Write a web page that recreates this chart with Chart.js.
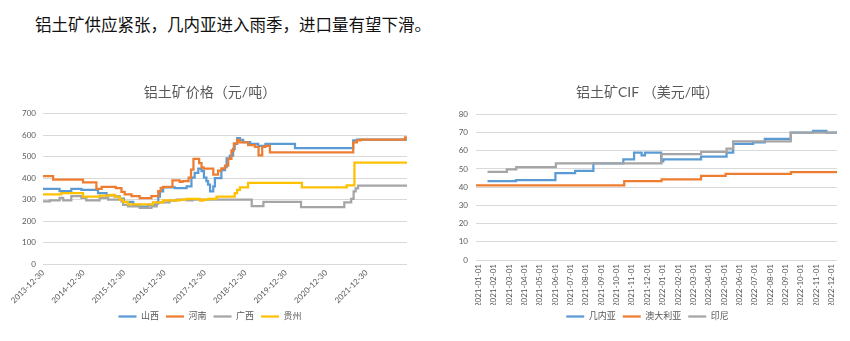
<!DOCTYPE html>
<html>
<head>
<meta charset="utf-8">
<script src="https://cdn.jsdelivr.net/npm/chart.js@4.4.0/dist/chart.umd.min.js"></script>
<style>
  body { margin: 0; background: #fff; width: 850px; height: 341px; position: relative; overflow: hidden; }
  .heading { position: absolute; left: 35px; top: 12px; font-size: 16.5px; font-family: "Noto Sans CJK SC", sans-serif; color: #111; white-space: nowrap; }
  .box { position: absolute; top: 45px; height: 296px; }
  #left { left: 0; width: 420px; }
  #right { left: 440px; width: 410px; }
</style>
</head>
<body>
<div class="heading">铝土矿供应紧张，几内亚进入雨季，进口量有望下滑。</div>
<div class="box" id="left"><canvas id="priceChart" width="420" height="296"></canvas></div>
<div class="box" id="right"><canvas id="cifChart" width="410" height="296"></canvas></div>
<script>
// 国内铝土矿价格（元/吨），x = 自 2013-12-30 起的年数，每点为该价格开始执行的位置
const yearLabels = ['2013-12-30', '2014-12-30', '2015-12-30', '2016-12-30', '2017-12-30',
                    '2018-12-30', '2019-12-30', '2020-12-30', '2021-12-30'];

const shanxi = [[0,350],[0.41,340],[0.70,350],[0.95,345],[1.36,330],[1.57,320],[1.77,315],[1.90,305],
  [2.00,290],[2.23,275],[2.39,267],[2.60,275],[2.81,287],[2.85,314],[2.89,338],[2.97,357],[3.26,354],
  [3.55,362],[3.67,402],[3.75,425],[3.84,445],[3.92,433],[3.98,402],[4.04,386],[4.08,370],[4.13,338],
  [4.21,362],[4.25,400],[4.41,437],[4.50,452],[4.54,492],[4.62,505],[4.70,537],[4.74,560],[4.80,587],
  [4.87,579],[4.95,568],[5.12,560],[5.32,550],[5.50,560],[6.23,540],[7.67,576],[7.76,580],[9.0,580]];

const henan = [[0,410],[0.25,393],[0.99,380],[1.32,350],[1.45,360],[1.80,354],[1.94,336],[2.02,324],
  [2.19,316],[2.39,307],[2.68,316],[2.85,340],[2.91,355],[2.97,360],[3.20,390],[3.38,383],[3.45,386],
  [3.60,403],[3.66,440],[3.72,490],[3.86,470],[3.92,450],[3.97,445],[4.21,416],[4.33,435],[4.41,446],
  [4.50,458],[4.58,490],[4.66,530],[4.72,562],[4.80,578],[4.86,567],[5.07,554],[5.24,546],[5.33,506],
  [5.42,546],[5.50,550],[5.61,520],[7.67,567],[7.76,576],[7.85,580],[8.95,590],[9.0,590]];

const guangxi = [[0,292],[0.17,297],[0.41,308],[0.50,297],[0.70,316],[0.95,308],[1.07,297],[1.40,308],
  [1.61,300],[1.94,292],[1.98,276],[2.10,268],[2.39,262],[2.68,268],[2.81,281],[2.85,287],[3.13,295],
  [3.30,300],[3.55,296],[3.70,300],[5.16,270],[5.45,290],[6.38,265],[7.45,287],[7.62,303],[7.68,338],
  [7.73,352],[7.79,365],[9.0,365]];

const guizhou = [[0,325],[0.45,330],[0.99,314],[1.40,319],[1.65,322],[1.77,314],[1.90,300],[1.98,290],
  [2.10,278],[2.72,287],[2.97,297],[3.38,300],[3.55,303],[3.88,295],[3.96,300],[4.08,303],[4.29,314],
  [4.74,330],[4.80,346],[4.87,357],[5.07,378],[6.40,357],[7.51,367],[7.70,473],[9.0,473]];

// 进口铝土矿 CIF（美元/吨），x = 自 2021-01 起的月数
const monthLabels = ['2021-01-01', '2021-02-01', '2021-03-01', '2021-04-01', '2021-05-01', '2021-06-01',
  '2021-07-01', '2021-08-01', '2021-09-01', '2021-10-01', '2021-11-01', '2021-12-01',
  '2022-01-01', '2022-02-01', '2022-03-01', '2022-04-01', '2022-05-01', '2022-06-01',
  '2022-07-01', '2022-08-01', '2022-09-01', '2022-10-01', '2022-11-01', '2022-12-01'];

const guinea = [[0.6,43.3],[2.45,43.8],[5.02,47.7],[6.3,48.9],[7.49,53],[9.44,55.3],[10.14,59],
  [10.63,57.5],[10.85,59],[11.9,54.2],[12.04,55.3],[14.5,56.8],[16.16,59],[16.59,63.7],[17.89,64.6],
  [18.65,66.5],[20.34,70],[21.79,70.9],[22.66,70],[23.35,70]];

const australia = [[-0.15,41],[9.5,43.3],[11.93,44.3],[14.5,46.2],[16.1,47.3],[20.35,48.2],[23.35,48.2]];

const indonesia = [[0.6,48.4],[1.86,49.8],[2.47,51],[5.05,53],[11.93,58.2],[14.5,59.4],[16.16,61.2],
  [16.59,65.1],[20.34,70],[23.35,70]];

const BLUE = '#5B9BD5', ORANGE = '#ED7D31', GRAY = '#A5A5A5', YELLOW = '#FFC000';
const TEXT = '#595959';

Chart.defaults.font.family = 'Lato, "Noto Sans CJK SC", sans-serif';
Chart.defaults.color = TEXT;
Chart.defaults.animation = false;

function series(label, data, color, order) {
  return {
    label: label,
    data: data,
    borderColor: color,
    backgroundColor: color,
    borderWidth: 2.25,
    pointRadius: 0,
    stepped: true,
    order: order   // 后面的系列画在上层
  };
}

function makeChart(id, opt) {
  new Chart(document.getElementById(id), {
    type: 'line',
    data: { datasets: opt.datasets },
    options: {
      responsive: false,
      layout: { padding: { left: opt.padLeft, right: 13, top: 0, bottom: 10 } },
      plugins: {
        title: {
          display: true,
          text: opt.title,
          color: TEXT,
          font: { size: 14, weight: 'normal' },
          padding: { top: 39, bottom: opt.titleGap }
        },
        legend: {
          position: 'bottom',
          labels: {
            usePointStyle: true,
            pointStyle: 'line',
            pointStyleWidth: 18,
            font: { size: 9 },
            color: TEXT,
            padding: 7,
            sort: (a, b) => a.datasetIndex - b.datasetIndex
          }
        },
        tooltip: { enabled: false }
      },
      scales: {
        x: {
          type: 'linear',
          min: opt.xMin,
          max: opt.xMax,
          grid: { display: false, drawTicks: false },
          border: { display: false },
          ticks: {
            stepSize: 1,
            includeBounds: false,
            autoSkip: false,
            minRotation: opt.rotation,
            maxRotation: opt.rotation,
            padding: 4,
            font: { size: 8 },
            color: TEXT,
            callback: (v) => opt.labels[v] ?? ''
          },
          afterFit: (s) => { s.height = opt.xHeight; }
        },
        y: {
          min: 0,
          max: opt.yMax,
          grid: { color: '#D9D9D9', lineWidth: 1, drawTicks: false },
          border: { display: false },
          ticks: { stepSize: opt.yStep, padding: opt.yPad, font: { size: 8 }, color: TEXT },
          // 刻度文字会被裁剪在坐标轴框内，宽度要留够
          afterFit: (s) => { s.width = opt.yWidth; }
        }
      }
    }
  });
}

makeChart('priceChart', {
  title: '铝土矿价格（元/吨）',
  datasets: [
    series('山西', shanxi, BLUE, 4),
    series('河南', henan, ORANGE, 3),
    series('广西', guangxi, GRAY, 2),
    series('贵州', guizhou, YELLOW, 1)
  ],
  labels: yearLabels,
  xMin: 0, xMax: 9, rotation: 45,
  yMax: 700, yStep: 100,
  padLeft: 13, yWidth: 30, yPad: 7,
  titleGap: 13, xHeight: 41
});

makeChart('cifChart', {
  title: '铝土矿CIF （美元/吨）',
  datasets: [
    series('几内亚', guinea, BLUE, 3),
    series('澳大利亚', australia, ORANGE, 2),
    series('印尼', indonesia, GRAY, 1)
  ],
  labels: monthLabels,
  xMin: -0.15, xMax: 23.35, rotation: 90,
  yMax: 80, yStep: 10,
  padLeft: 18, yWidth: 18, yPad: 8,
  titleGap: 13.5, xHeight: 45
});
</script>
</body>
</html>
